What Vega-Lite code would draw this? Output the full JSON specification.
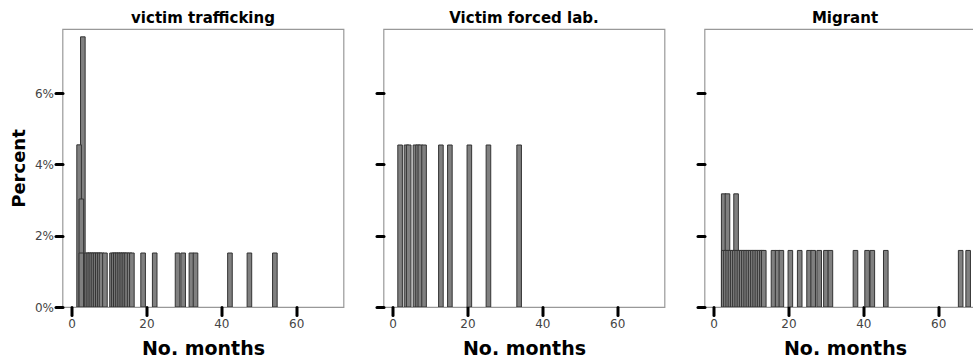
{
  "$schema": "https://vega.github.io/schema/vega-lite/v6.json",
  "padding": {"left": 9.5, "top": 10, "right": 0, "bottom": 0},
  "spacing": 29,
  "config": {
    "font": "DejaVu Sans",
    "view": {"stroke": "#999999", "strokeWidth": 1.2},
    "axis": {
      "grid": false,
      "domain": false,
      "ticks": true,
      "tickColor": "#000000",
      "tickWidth": 3,
      "tickSize": 7,
      "tickCap": "round",
      "labelFont": "DejaVu Sans",
      "labelFontSize": 12,
      "labelColor": "#444444",
      "titleFont": "DejaVu Sans",
      "titleFontWeight": "bold",
      "titleColor": "#000000"
    },
    "title": {"font": "DejaVu Sans", "fontSize": 15, "fontWeight": "bold", "color": "#000000", "offset": 3}
  },
  "datasets": {
    "trafficking": [
      {"months": 3.0, "pct": 7.58},
      {"months": 2.0, "pct": 4.55},
      {"months": 2.6, "pct": 3.03},
      {"months": 2.6, "pct": 1.515},
      {"months": 4.0, "pct": 1.515},
      {"months": 4.5, "pct": 1.515},
      {"months": 5.0, "pct": 1.515},
      {"months": 5.5, "pct": 1.515},
      {"months": 6.0, "pct": 1.515},
      {"months": 6.5, "pct": 1.515},
      {"months": 7.0, "pct": 1.515},
      {"months": 7.5, "pct": 1.515},
      {"months": 8.0, "pct": 1.515},
      {"months": 8.9, "pct": 1.515},
      {"months": 10.8, "pct": 1.515},
      {"months": 11.3, "pct": 1.515},
      {"months": 11.8, "pct": 1.515},
      {"months": 12.3, "pct": 1.515},
      {"months": 12.8, "pct": 1.515},
      {"months": 13.3, "pct": 1.515},
      {"months": 13.8, "pct": 1.515},
      {"months": 14.3, "pct": 1.515},
      {"months": 14.8, "pct": 1.515},
      {"months": 15.5, "pct": 1.515},
      {"months": 16.1, "pct": 1.515},
      {"months": 19.1, "pct": 1.515},
      {"months": 22.2, "pct": 1.515},
      {"months": 28.3, "pct": 1.515},
      {"months": 29.8, "pct": 1.515},
      {"months": 32.0, "pct": 1.515},
      {"months": 33.1, "pct": 1.515},
      {"months": 42.3, "pct": 1.515},
      {"months": 47.5, "pct": 1.515},
      {"months": 54.3, "pct": 1.515}
    ],
    "forced": [
      {"months": 2.0, "pct": 4.545},
      {"months": 3.7, "pct": 4.545},
      {"months": 4.3, "pct": 4.545},
      {"months": 6.1, "pct": 4.545},
      {"months": 6.8, "pct": 4.545},
      {"months": 7.4, "pct": 4.545},
      {"months": 8.4, "pct": 4.545},
      {"months": 12.9, "pct": 4.545},
      {"months": 15.3, "pct": 4.545},
      {"months": 20.5, "pct": 4.545},
      {"months": 25.6, "pct": 4.545},
      {"months": 33.8, "pct": 4.545}
    ],
    "migrant": [
      {"months": 2.7, "pct": 3.175},
      {"months": 3.7, "pct": 3.175},
      {"months": 6.0, "pct": 3.175},
      {"months": 2.7, "pct": 1.587},
      {"months": 3.3, "pct": 1.587},
      {"months": 3.9, "pct": 1.587},
      {"months": 4.5, "pct": 1.587},
      {"months": 5.1, "pct": 1.587},
      {"months": 5.7, "pct": 1.587},
      {"months": 6.3, "pct": 1.587},
      {"months": 6.9, "pct": 1.587},
      {"months": 7.5, "pct": 1.587},
      {"months": 8.1, "pct": 1.587},
      {"months": 8.7, "pct": 1.587},
      {"months": 9.3, "pct": 1.587},
      {"months": 9.9, "pct": 1.587},
      {"months": 10.5, "pct": 1.587},
      {"months": 11.1, "pct": 1.587},
      {"months": 11.7, "pct": 1.587},
      {"months": 12.3, "pct": 1.587},
      {"months": 12.9, "pct": 1.587},
      {"months": 13.4, "pct": 1.587},
      {"months": 16.0, "pct": 1.587},
      {"months": 17.1, "pct": 1.587},
      {"months": 18.1, "pct": 1.587},
      {"months": 20.5, "pct": 1.587},
      {"months": 23.0, "pct": 1.587},
      {"months": 25.5, "pct": 1.587},
      {"months": 26.6, "pct": 1.587},
      {"months": 28.2, "pct": 1.587},
      {"months": 30.0, "pct": 1.587},
      {"months": 31.2, "pct": 1.587},
      {"months": 37.9, "pct": 1.587},
      {"months": 41.0, "pct": 1.587},
      {"months": 42.4, "pct": 1.587},
      {"months": 46.0, "pct": 1.587},
      {"months": 66.0, "pct": 1.587},
      {"months": 68.0, "pct": 1.587}
    ]
  },
  "hconcat": [
    {
      "title": "victim trafficking",
      "width": 281,
      "height": 278,
      "data": {"name": "trafficking"},
      "mark": {"type": "bar", "width": 4.6, "fill": "#808080", "stroke": "#333333", "strokeWidth": 1, "clip": true},
      "encoding": {
        "x": {"field": "months", "type": "quantitative", "scale": {"domain": [-1.1, 71.3], "nice": false, "zero": false}, "axis": {"values": [0, 20, 40, 60], "title": "No. months", "tickSize": 8, "labelPadding": 3, "titlePadding": 10, "titleFontSize": 19}},
        "y": {"field": "pct", "type": "quantitative", "stack": null, "scale": {"domain": [0, 7.8], "nice": false}, "axis": {"values": [0, 2, 4, 6], "labelExpr": "datum.value + '%'", "title": "Percent", "titleFontSize": 18, "labelPadding": 2, "titlePadding": 6}}
      }
    },
    {
      "title": "Victim forced lab.",
      "width": 281,
      "height": 278,
      "data": {"name": "forced"},
      "mark": {"type": "bar", "width": 4.6, "fill": "#808080", "stroke": "#333333", "strokeWidth": 1, "clip": true},
      "encoding": {
        "x": {"field": "months", "type": "quantitative", "scale": {"domain": [-1.1, 71.3], "nice": false, "zero": false}, "axis": {"values": [0, 20, 40, 60], "title": "No. months", "tickSize": 8, "labelPadding": 3, "titlePadding": 10, "titleFontSize": 19}},
        "y": {"field": "pct", "type": "quantitative", "stack": null, "scale": {"domain": [0, 7.8], "nice": false}, "axis": {"values": [0, 2, 4, 6], "labels": false, "title": null}}
      }
    },
    {
      "title": "Migrant",
      "width": 281,
      "height": 278,
      "data": {"name": "migrant"},
      "mark": {"type": "bar", "width": 4.6, "fill": "#808080", "stroke": "#333333", "strokeWidth": 1, "clip": true},
      "encoding": {
        "x": {"field": "months", "type": "quantitative", "scale": {"domain": [-1.1, 71.3], "nice": false, "zero": false}, "axis": {"values": [0, 20, 40, 60], "title": "No. months", "tickSize": 8, "labelPadding": 3, "titlePadding": 10, "titleFontSize": 19}},
        "y": {"field": "pct", "type": "quantitative", "stack": null, "scale": {"domain": [0, 7.8], "nice": false}, "axis": {"values": [0, 2, 4, 6], "labels": false, "title": null}}
      }
    }
  ]
}
